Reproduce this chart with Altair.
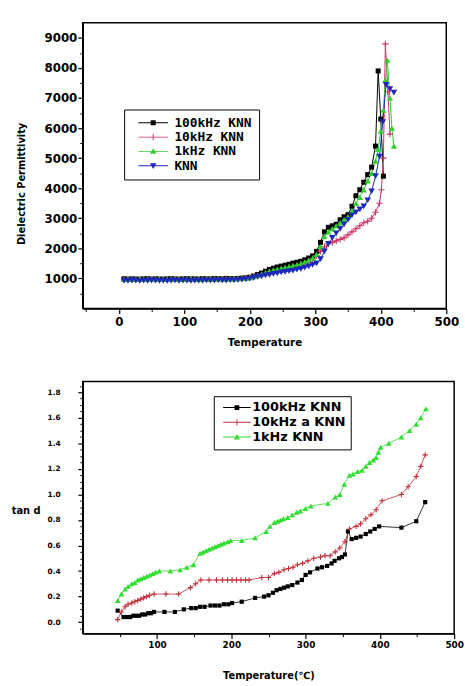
import altair as alt
import pandas as pd

# ---------------- Top panel: dielectric permittivity ----------------
TOP_SERIES = ["100kHz KNN", "10kHz KNN", "1kHz KNN", "KNN"]
TOP_COLORS = ["#000000", "#d03060", "#33cc33", "#1f28b8"]

T_TOP_LOW = [8, 14, 20, 26, 32, 38, 44, 50, 56, 62, 68, 74, 80, 86, 92, 98, 104,
             110, 116, 122, 128, 134, 140, 146, 152, 158, 164, 170, 176, 182, 188, 194, 200]
T_TOP_RISE = [206, 212, 218, 224, 230, 236, 242, 248, 254, 260, 266, 272, 278, 284, 290,
              296, 302, 308, 314, 320, 326, 332, 338, 344, 350, 356, 362, 368, 374, 380, 386]

EPS_100K_LOW = [990, 975, 985, 980, 970, 985, 990, 975, 985, 980, 975, 985, 990, 980, 975, 985, 990,
                980, 985, 975, 990, 985, 980, 995, 990, 985, 1000, 995, 990, 1000, 1010, 1020, 1040]
EPS_100K_RISE = [1080, 1130, 1180, 1240, 1300, 1340, 1380, 1410, 1440, 1470, 1510, 1540, 1570, 1620, 1680,
                 1750, 1900, 2200, 2550, 2700, 2750, 2800, 2950, 3050, 3120, 3400, 3750, 3950, 4200, 4450, 4700]
T_100K_PEAK = [392, 396, 400, 404]
EPS_100K_PEAK = [5400, 7900, 6300, 4400]

EPS_10K_LOW = [960, 970, 955, 965, 960, 970, 965, 960, 975, 965, 960, 970, 965, 975, 960, 970, 965,
               960, 975, 970, 965, 975, 970, 980, 975, 970, 985, 980, 975, 990, 995, 1005, 1020]
EPS_10K_RISE = [1050, 1090, 1130, 1170, 1210, 1240, 1270, 1300, 1330, 1360, 1390, 1420, 1460, 1510, 1570,
                1650, 1750, 1900, 2050, 2150, 2200, 2250, 2300, 2350, 2450, 2550, 2650, 2750, 2850, 2900, 3000]
T_10K_PEAK = [392, 398, 401, 404, 407, 411, 414]
EPS_10K_PEAK = [3200, 3500, 3950, 5000, 8800, 7200, 5800]

EPS_1K_LOW = [975, 985, 970, 980, 990, 975, 985, 980, 975, 990, 980, 975, 985, 990, 980, 975, 985,
              980, 990, 985, 975, 990, 985, 980, 995, 990, 985, 1000, 990, 1000, 1005, 1015, 1030]
EPS_1K_RISE = [1060, 1100, 1140, 1190, 1240, 1280, 1310, 1340, 1370, 1400, 1430, 1460, 1500, 1550, 1610,
               1680, 1800, 2050, 2400, 2550, 2650, 2750, 2850, 2950, 3050, 3250, 3500, 3700, 3950, 4250, 4500]
T_1K_PEAK = [392, 396, 400, 404, 407, 410, 414, 417, 420]
EPS_1K_PEAK = [4900, 5300, 5900, 6600, 7600, 8260, 7000, 6000, 5400]

EPS_KNN_LOW = [930, 920, 935, 925, 915, 930, 920, 935, 925, 920, 930, 915, 925, 935, 920, 930, 925,
               915, 930, 925, 920, 935, 930, 925, 940, 935, 930, 945, 940, 950, 960, 975, 990]
EPS_KNN_RISE = [1020, 1050, 1070, 1100, 1120, 1150, 1170, 1200, 1220, 1240, 1260, 1290, 1320, 1360, 1400,
                1450, 1500, 1640, 1900, 2150, 2350, 2500, 2650, 2800, 2950, 3100, 3200, 3300, 3400, 3600, 3900]
T_KNN_PEAK = [392, 398, 403, 408, 414, 420]
EPS_KNN_PEAK = [4400, 5050, 6200, 7440, 7300, 7180]

TOP_X_MAJOR = [0, 100, 200, 300, 400, 500]
TOP_X_MINOR = [-50, 50, 150, 250, 350, 450]
TOP_Y_MAJOR = [1000, 2000, 3000, 4000, 5000, 6000, 7000, 8000, 9000]
TOP_Y_MINOR = [500, 1500, 2500, 3500, 4500, 5500, 6500, 7500, 8500]

# ---------------- Bottom panel: tan d ----------------
BOT_SERIES = ["100kHz KNN", "10kHz a KNN", "1kHz KNN"]
BOT_COLORS = ["#000000", "#c0303c", "#33dd33"]

T_B_100K = [47, 55, 60, 64, 68, 72, 76, 80, 84, 88, 92, 96, 110, 124, 136, 146, 152, 158, 164, 172,
            178, 184, 190, 196, 201, 214, 232, 244, 250, 256, 261, 266, 271, 276, 282, 289, 295, 300, 306, 316,
            322, 329, 335, 339, 345, 349, 353, 357, 362, 368, 374, 381, 387, 393, 399, 429, 449, 461]
TAN_100K = [0.09, 0.04, 0.04, 0.04, 0.05, 0.05, 0.05, 0.06, 0.06, 0.07, 0.07, 0.08, 0.08, 0.08, 0.10, 0.11, 0.11, 0.12, 0.12, 0.13,
            0.13, 0.13, 0.14, 0.14, 0.15, 0.16, 0.19, 0.20, 0.21, 0.23, 0.25, 0.26, 0.27, 0.28, 0.29, 0.31, 0.33, 0.37, 0.39, 0.42,
            0.43, 0.44, 0.46, 0.48, 0.50, 0.51, 0.53, 0.71, 0.65, 0.66, 0.67, 0.69, 0.71, 0.73, 0.75, 0.74, 0.79, 0.94]

T_B_10K = [47, 52, 57, 61, 66, 70, 74, 78, 82, 86, 90, 96, 112, 129, 145, 152, 159, 170, 180, 188,
           195, 201, 207, 213, 219, 224, 241, 250, 258, 264, 271, 277, 283, 289, 296, 303, 311, 320, 326, 333,
           340, 346, 353, 359, 368, 374, 381, 388, 395, 403, 429, 438, 449, 455, 461]
TAN_10K = [0.02, 0.08, 0.12, 0.14, 0.15, 0.16, 0.17, 0.18, 0.19, 0.20, 0.21, 0.22, 0.22, 0.22, 0.27, 0.30, 0.33, 0.33, 0.33, 0.33,
           0.33, 0.33, 0.33, 0.33, 0.33, 0.33, 0.35, 0.35, 0.38, 0.39, 0.41, 0.42, 0.43, 0.45, 0.46, 0.48, 0.50, 0.51, 0.52, 0.52,
           0.55, 0.58, 0.63, 0.73, 0.75, 0.77, 0.81, 0.84, 0.88, 0.95, 1.00, 1.06, 1.14, 1.22, 1.31]

T_B_1K = [47, 52, 57, 61, 66, 70, 74, 78, 82, 86, 90, 94, 98, 103, 118, 131, 140, 149, 158, 162,
          166, 170, 174, 178, 182, 186, 190, 195, 199, 214, 232, 247, 252, 258, 262, 266, 270, 276, 282, 288,
          293, 300, 307, 330, 340, 346, 352, 359, 364, 370, 376, 381, 386, 391, 395, 398, 401, 412, 429, 440,
          449, 455, 462]
TAN_1K = [0.17, 0.22, 0.26, 0.28, 0.30, 0.31, 0.33, 0.34, 0.35, 0.36, 0.37, 0.38, 0.39, 0.40, 0.40, 0.41, 0.43, 0.45, 0.54, 0.55,
          0.56, 0.57, 0.58, 0.59, 0.60, 0.61, 0.62, 0.63, 0.64, 0.64, 0.66, 0.71, 0.75, 0.78, 0.79, 0.80, 0.81, 0.82, 0.84, 0.86,
          0.87, 0.89, 0.91, 0.93, 0.98, 1.00, 1.08, 1.15, 1.16, 1.18, 1.19, 1.22, 1.25, 1.27, 1.29, 1.33, 1.37, 1.40, 1.45, 1.50,
          1.55, 1.60, 1.67]

BOT_X_MAJOR = [100, 200, 300, 400, 500]
BOT_X_MINOR = [50, 150, 250, 350, 450]
BOT_Y_MAJOR = [0.0, 0.2, 0.4, 0.6, 0.8, 1.0, 1.2, 1.4, 1.6, 1.8]
BOT_Y_MINOR = [-0.05, 0.05, 0.10, 0.15, 0.25, 0.30, 0.35, 0.45, 0.50, 0.55, 0.65, 0.70, 0.75, 0.85, 0.90,
               0.95, 1.05, 1.10, 1.15, 1.25, 1.30, 1.35, 1.45, 1.50, 1.55, 1.65, 1.70, 1.75, 1.85]

# ---------------- build tables ----------------
def long(name, temps, vals):
    return pd.DataFrame({"T": temps, "v": vals, "series": name})

top_df = pd.concat([
    long(TOP_SERIES[0], T_TOP_LOW + T_TOP_RISE + T_100K_PEAK, EPS_100K_LOW + EPS_100K_RISE + EPS_100K_PEAK),
    long(TOP_SERIES[1], T_TOP_LOW + T_TOP_RISE + T_10K_PEAK, EPS_10K_LOW + EPS_10K_RISE + EPS_10K_PEAK),
    long(TOP_SERIES[2], T_TOP_LOW + T_TOP_RISE + T_1K_PEAK, EPS_1K_LOW + EPS_1K_RISE + EPS_1K_PEAK),
    long(TOP_SERIES[3], T_TOP_LOW + T_TOP_RISE + T_KNN_PEAK, EPS_KNN_LOW + EPS_KNN_RISE + EPS_KNN_PEAK),
], ignore_index=True)

bot_df = pd.concat([
    long(BOT_SERIES[0], T_B_100K, TAN_100K),
    long(BOT_SERIES[1], T_B_10K, TAN_10K),
    long(BOT_SERIES[2], T_B_1K, TAN_1K),
], ignore_index=True)

FONT = "DejaVu Sans"
LEG_FONT = "DejaVu Sans Mono"
CROSS = "M-1,0H1M0,-1V1"


def legend_shapes(L, t, sq, tri):
    """Fill-only symbol paths: a horizontal line of half-length L with a marker in its middle."""
    line = f"M{-L},{-t}H{L}V{t}H{-L}Z "
    return {
        "square": line + f"M{-sq},{-sq}H{sq}V{sq}H{-sq}Z",
        "cross": line + f"M{-t},{-tri}H{t}V{tri}H{-t}Z",
        "tup": line + f"M0,{-tri}L{tri},{tri * 0.75}H{-tri}Z",
        "tdown": line + f"M0,{tri}L{-tri},{-tri * 0.75}H{tri}Z",
    }


def axis_major(values, title, size, **kw):
    return alt.Axis(values=values, title=title, tickSize=5, tickWidth=1.2, tickColor="black",
                    domainColor="black", domainWidth=1.5, labelFont=FONT, labelFontWeight="bold",
                    labelColor="black", labelFontSize=size, grid=False, labelFlush=False,
                    labelOverlap=False, titleFont=FONT, titleFontWeight="bold", titleColor="black", **kw)


def axis_minor(values, orient):
    return alt.Axis(values=values, orient=orient, title=None, labels=False, domain=False,
                    tickSize=3, tickWidth=1, tickColor="black", grid=False)


def panel(df, series, colors, marks, xs, ys, ax_x, ax_y, ax_x_min, ax_y_min, legend, leg_shapes,
          w, h, line_w):
    # drawing scales list the series in reverse order so they stay apart from the legend scales
    draw_scale = alt.Scale(domain=series[::-1], range=colors[::-1])
    base = alt.Chart(df)
    line = base.mark_line(strokeWidth=line_w).encode(
        x=alt.X("T:Q", scale=xs, axis=ax_x),
        y=alt.Y("v:Q", scale=ys, axis=ax_y),
        stroke=alt.Stroke("series:N", scale=draw_scale, legend=None),
    )
    layers = [line]
    for i, (name, (shape, filled, size)) in enumerate(zip(series, marks)):
        enc = dict(
            x=alt.X("T:Q", scale=xs, axis=ax_x_min if i == 0 else None),
            y=alt.Y("v:Q", scale=ys, axis=ax_y_min if i == 0 else None),
        )
        if filled:
            enc["fill"] = alt.Fill("series:N", scale=draw_scale, legend=None)
            mk = dict(shape=shape, filled=True, size=size, opacity=1, strokeWidth=0)
        else:
            enc["stroke"] = alt.Stroke("series:N", scale=draw_scale, legend=None)
            mk = dict(shape=shape, filled=False, size=size, opacity=1, strokeWidth=1.1)
        layers.append(base.transform_filter(alt.datum.series == name).mark_point(**mk).encode(**enc))
    leg = base.transform_filter("false").mark_point(filled=True, opacity=1).encode(
        color=alt.Color("series:N", scale=alt.Scale(domain=series, range=colors), legend=legend),
        shape=alt.Shape("series:N", scale=alt.Scale(domain=series, range=leg_shapes), legend=legend),
    )
    layers.append(leg)
    return alt.layer(*layers).resolve_axis(x="independent", y="independent").properties(width=w, height=h)


TS = legend_shapes(2.5, 0.08, 0.42, 0.55)
top_legend = alt.Legend(title=None, orient="none", legendX=42, legendY=88, direction="vertical",
                        strokeColor="black", fillColor="white", padding=7, symbolSize=144,
                        symbolOffset=16, labelOffset=15, symbolStrokeWidth=0, labelFont=LEG_FONT,
                        labelFontSize=13, labelFontWeight="bold", labelColor="black", rowPadding=0.5)

BS = legend_shapes(3.5, 0.12, 0.6, 0.8)
bot_legend = alt.Legend(title=None, orient="none", legendX=133, legendY=15, direction="vertical",
                        strokeColor="black", fillColor="white", padding=5, symbolSize=64,
                        symbolOffset=12, labelOffset=9, symbolStrokeWidth=0, labelFont=FONT,
                        labelFontSize=13, labelFontWeight="bold", labelColor="black", rowPadding=1)

top = panel(
    top_df, TOP_SERIES, TOP_COLORS,
    [("square", True, 26), (CROSS, False, 40), ("triangle-up", True, 40), ("triangle-down", True, 45)],
    alt.Scale(domain=[-55, 500], nice=False, zero=False),
    alt.Scale(domain=[0, 9500], nice=False, zero=False),
    axis_major(TOP_X_MAJOR, "Temperature", 12, titleFontSize=10.5, titleY=35, titleBaseline="middle",
               labelPadding=3),
    axis_major(TOP_Y_MAJOR, "Dielectric Permittivity", 12, format="d", titleFontSize=10, titleAngle=270,
               titleX=-62, titleY=163, titleAlign="center", titleBaseline="middle", labelPadding=1),
    axis_minor(TOP_X_MINOR, "bottom"), axis_minor(TOP_Y_MINOR, "left"),
    top_legend, [TS["square"], TS["cross"], TS["tup"], TS["tdown"]],
    369, 290, 1,
)

bottom = panel(
    bot_df, BOT_SERIES, BOT_COLORS,
    [("square", True, 18), (CROSS, False, 30), ("triangle-up", True, 34)],
    alt.Scale(domain=[0, 500], nice=False, zero=False),
    alt.Scale(domain=[-0.09, 1.885], nice=False, zero=False),
    axis_major(BOT_X_MAJOR, "Temperature(℃)", 9, titleFontSize=10, titleY=43, titleBaseline="middle",
               labelPadding=2),
    axis_major(BOT_Y_MAJOR, "tan d", 7.5, format=".1f", titleFontSize=10, titleAngle=0, titleX=-58,
               titleY=131, titleAlign="center", titleBaseline="middle", labelPadding=18),
    axis_minor(BOT_X_MINOR, "bottom"), axis_minor(BOT_Y_MINOR, "left"),
    bot_legend, [BS["square"], BS["cross"], BS["tup"]],
    377, 256, 0.8,
)

chart = (
    alt.vconcat(top, bottom, spacing=74, bounds="flush")
    .resolve_scale(color="independent", shape="independent", fill="independent", stroke="independent")
    .properties(padding={"left": 10, "top": 17, "right": 0, "bottom": 0}, background="white")
    .configure_view(stroke="black", strokeWidth=1.5)
)

chart.save("out.html", embed_options={"renderer": "svg", "actions": False})
